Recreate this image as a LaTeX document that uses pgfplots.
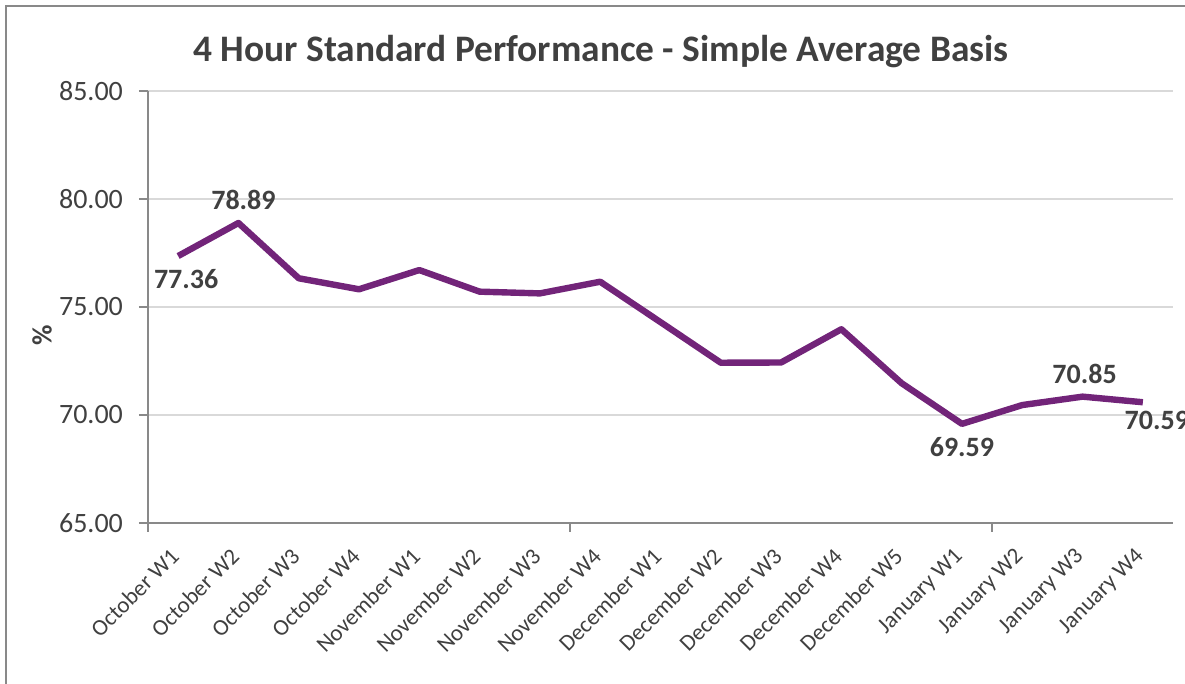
\documentclass[border=0pt]{standalone}
\usepackage{fontspec}
\setmainfont{Carlito}
\usepackage{pgfplots}
\pgfplotsset{compat=1.18}
\definecolor{linec}{HTML}{722479}
\definecolor{txt}{HTML}{404040}
\definecolor{axisc}{HTML}{898989}
\definecolor{gridc}{HTML}{D9D9D9}
\begin{document}
\begin{tikzpicture}
\begin{axis}[
  at={(0,0)}, anchor=south west,
  scale only axis, width=512.5pt, height=216pt,
  xmin=-0.5, xmax=16.5, ymin=65, ymax=85,
  axis lines=left,
  axis line style={draw=axisc, line width=0.9pt, -},
  ymajorgrids, grid style={draw=gridc, line width=1.1pt},
  tick align=outside, major tick length=4.5pt,
  ytick style={draw=axisc, line width=0.9pt},
  xtick style={draw=none},
  ytick={65,70,75,80,85},
  yticklabel style={font=\fontsize{14}{14}\selectfont, text=txt, xshift=-4.5pt,
    /pgf/number format/fixed, /pgf/number format/fixed zerofill, /pgf/number format/precision=2, /pgf/number format/assume math mode=true},
  xtick={0,...,16},
  xticklabels={October W1,October W2,October W3,October W4,November W1,November W2,November W3,November W4,December W1,December W2,December W3,December W4,December W5,January W1,January W2,January W3,January W4},
  xticklabel style={font=\fontsize{11.5}{11.5}\selectfont, text=txt, inner sep=0pt, xshift=-4.5pt, yshift=-7pt, rotate=45, anchor=north east},
  extra x ticks={-0.5,6.5,13.5}, extra x tick labels={},
  extra x tick style={grid=none, xtick style={draw=axisc, line width=0.9pt}},
  ylabel={\textbf{\%}},
  every axis y label/.style={at={(axis description cs:0,0)}, xshift=-53pt, yshift=94pt, rotate=90, anchor=center, font=\fontsize{14}{14}\selectfont, text=txt},
  clip=false,
]
\addplot[linec, line width=3.2pt, line join=round] coordinates {
(0,77.36) (1,78.89) (2,76.33) (3,75.82) (4,76.71) (5,75.71) (6,75.63) (7,76.17) (8,74.30) (9,72.42) (10,72.43) (11,73.97) (12,71.47) (13,69.59) (14,70.46) (15,70.85) (16,70.59)};
\pgfplotsset{lbl/.style={draw=none, nodes near coords, point meta=y,
  nodes near coords style={font=\bfseries\fontsize{14}{14}\selectfont, text=txt,
    /pgf/number format/fixed, /pgf/number format/fixed zerofill, /pgf/number format/precision=2, /pgf/number format/assume math mode=true}}}
\addplot[lbl, nodes near coords style={anchor=north, xshift=4pt, yshift=-3pt}] coordinates {(0,77.36)};
\addplot[lbl, nodes near coords style={anchor=south, xshift=2.5pt, yshift=3pt}] coordinates {(1,78.89)};
\addplot[lbl, nodes near coords style={anchor=north, yshift=-3pt}] coordinates {(13,69.59)};
\addplot[lbl, nodes near coords style={anchor=south, xshift=1pt, yshift=3pt}] coordinates {(15,70.85)};
\addplot[lbl, nodes near coords style={anchor=north, xshift=7pt, yshift=-1pt}] coordinates {(16,70.59)};
\end{axis}
\node[anchor=base, font=\bfseries\fontsize{18.7}{18.7}\selectfont, text=txt] at (226.5pt,230.5pt) {4 Hour Standard Performance - Simple Average Basis};
\draw[draw=axisc, line width=0.8pt] (-71pt,-100pt) rectangle (524pt,258.5pt);
\pgfresetboundingbox
\path[use as bounding box] (-74pt,-80.5pt) rectangle (518.5pt,261.5pt);
\end{tikzpicture}
\end{document}
